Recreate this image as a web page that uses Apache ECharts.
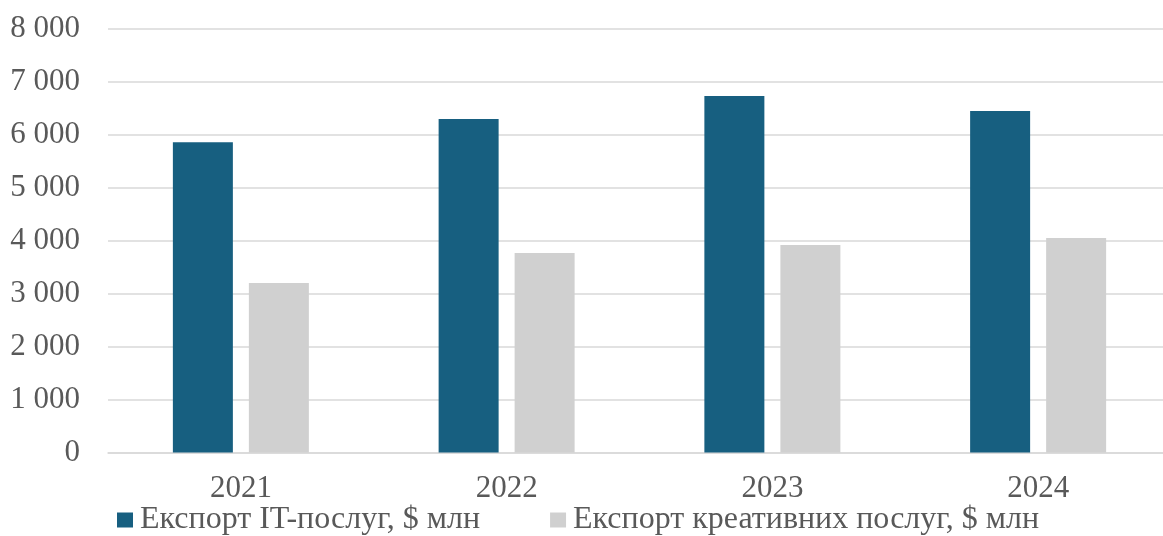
<!DOCTYPE html>
<html>
<head>
<meta charset="utf-8">
<style>
  html, body { margin: 0; padding: 0; background: #ffffff; overflow: hidden; width: 1163px; height: 536px; }
  #chart { width: 1175px; height: 536px; }
</style>
<script src="https://cdn.jsdelivr.net/npm/echarts@6/dist/echarts.min.js"></script>
</head>
<body>
<div id="chart"></div>
<script>
const categories = ['2021', '2022', '2023', '2024'];
const seriesNames = ['Експорт IT-послуг, $ млн', 'Експорт креативних послуг, $ млн'];
const itExport = [5860, 6300, 6735, 6450];
const creativeExport = [3200, 3770, 3920, 4050];
const yTicks = { min: 0, max: 8000, interval: 1000 };

const FONT = '"Liberation Serif", "Times New Roman", serif';
const TEXT = '#595959';

const chart = echarts.init(document.getElementById('chart'), null, { renderer: 'canvas' });
chart.setOption({
  animation: false,
  backgroundColor: '#ffffff',
  textStyle: { fontFamily: FONT },
  grid: { left: 108, top: 29, width: 1063, height: 423.5, containLabel: false },
  legend: {
    data: seriesNames,
    left: 117,
    top: 504,
    icon: 'rect',
    itemWidth: 16,
    itemHeight: 15,
    itemGap: 70,
    textStyle: { fontFamily: FONT, fontSize: 32, color: TEXT, padding: [0, 0, 0, 2] },
    padding: 0
  },
  xAxis: {
    type: 'category',
    data: categories,
    axisLine: { show: true, lineStyle: { color: '#d9d9d9', width: 1.5 } },
    axisTick: { show: false },
    axisLabel: { fontFamily: FONT, fontSize: 31, color: TEXT, margin: 21 }
  },
  yAxis: {
    type: 'value',
    min: yTicks.min,
    max: yTicks.max,
    interval: yTicks.interval,
    axisLine: { show: false },
    axisTick: { show: false },
    splitLine: { lineStyle: { color: '#d9d9d9', width: 1.5 } },
    axisLabel: {
      fontFamily: FONT, fontSize: 31, color: TEXT, margin: 28,
      formatter: v => String(v).replace(/\B(?=(\d{3})+(?!\d))/g, ' ')
    }
  },
  series: [
    {
      name: seriesNames[0], type: 'bar', data: itExport,
      barWidth: 60, barGap: '26.67%',
      itemStyle: { color: '#175f80' }
    },
    {
      name: seriesNames[1], type: 'bar', data: creativeExport,
      barWidth: 60, barGap: '26.67%',
      itemStyle: { color: '#d0d0d0' }
    }
  ]
});
</script>
</body>
</html>
